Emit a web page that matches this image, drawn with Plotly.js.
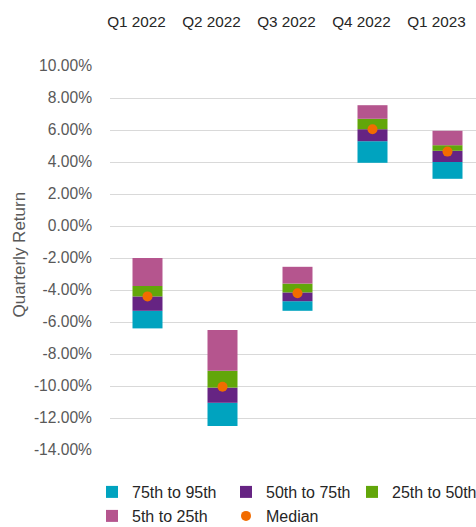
<!DOCTYPE html>
<html>
<head>
<meta charset="utf-8">
<script src="https://cdn.plot.ly/plotly-3.0.1.min.js"></script>
<style>html,body{margin:0;padding:0;background:#fff;}#chart{width:476px;height:527px;}</style>
</head>
<body>
<div id="chart"></div>
<script>
// Quarters
var categories = ["Q1 2022", "Q2 2022", "Q3 2022", "Q4 2022", "Q1 2023"];
// Boundaries of each band (quarterly return, %), bottom to top
var band1Low  = [-6.4, -12.5, -5.3, 3.95, 2.95];   // bottom of "75th to 95th"
var band1High = [-5.3, -11.05, -4.7, 5.3, 4.0];    // top of "75th to 95th" / bottom of "50th to 75th"
var band2High = [-4.4, -10.1, -4.15, 6.05, 4.7];   // top of "50th to 75th"
var band3High = [-3.75, -9.05, -3.6, 6.7, 5.05];   // top of "25th to 50th"
var band4High = [-2.0, -6.5, -2.55, 7.55, 5.95];   // top of "5th to 25th"
var median    = [-4.4, -10.05, -4.2, 6.05, 4.65];
var seriesNames = ["75th to 95th", "50th to 75th", "25th to 50th", "5th to 25th", "Median"];
var yTickVals = [10, 8, 6, 4, 2, 0, -2, -4, -6, -8, -10, -12, -14];

var colors = ["#00A3BF", "#662483", "#62A60A", "#B5558E", "#F26C00"];
var bounds = [band1Low, band1High, band2High, band3High, band4High];
var legendIds = ["legend", "legend", "legend3", "legend2", "legend2"];

var traces = [];
for (var k = 0; k < 4; k++) {
  var lo = bounds[k], hi = bounds[k + 1];
  traces.push({
    type: "bar",
    x: categories,
    base: lo,
    y: hi.map(function (v, i) { return v - lo[i]; }),
    name: seriesNames[k],
    legend: legendIds[k],
    width: 0.4,
    marker: {color: colors[k], line: {width: 0}},
    hoverinfo: "skip"
  });
}
traces.push({
  type: "scatter",
  mode: "markers",
  x: categories,
  y: median,
  name: seriesNames[4],
  legend: legendIds[4],
  marker: {color: colors[4], size: 10}
});

var font = "Liberation Sans, Arial, sans-serif";
var legendFont = {family: font, size: 16, color: "#262626"};
function legendAt(xpx, ypx, ew) {
  return {
    orientation: "h",
    xref: "container", yref: "container",
    x: xpx / 476, xanchor: "left",
    y: 1 - ypx / 527, yanchor: "middle",
    entrywidth: ew,
    traceorder: "normal",
    font: legendFont,
    bgcolor: "rgba(0,0,0,0)",
    itemclick: false
  };
}

var layout = {
  width: 476,
  height: 527,
  margin: {l: 110, r: 0, t: 66, b: 77},
  paper_bgcolor: "#fff",
  plot_bgcolor: "#fff",
  barmode: "overlay",
  showlegend: true,
  font: {family: font, size: 15, color: "#404040"},
  xaxis: {
    type: "category",
    side: "top",
    range: [-0.5, 4.38],
    showgrid: false,
    zeroline: false,
    showline: false,
    ticks: "",
    tickfont: {family: font, size: 15.3, color: "#262626"},
    ticklabelstandoff: 35,
    ticklabelshift: -11
  },
  yaxis: {
    range: [-14, 10],
    tickvals: yTickVals,
    ticktext: yTickVals.map(function (v) { return v.toFixed(2) + "%"; }),
    showgrid: true,
    gridcolor: "#d9d9d9",
    gridwidth: 1,
    zeroline: false,
    showline: false,
    ticks: "",
    tickfont: {family: font, size: 15.6, color: "#595959"},
    ticklabelstandoff: 17
  },
  legend: legendAt(92, 492, 89),
  legend2: legendAt(92, 516, 89),
  legend3: legendAt(352, 492, 0),
  annotations: [{
    xref: "paper", yref: "paper",
    x: -0.246, y: 0.509,
    xanchor: "center", yanchor: "middle",
    text: "Quarterly Return",
    textangle: -90,
    showarrow: false,
    font: {family: font, size: 17, color: "#595959"}
  }]
};

Plotly.newPlot("chart", traces, layout, {displayModeBar: false, staticPlot: true});
</script>
</body>
</html>
